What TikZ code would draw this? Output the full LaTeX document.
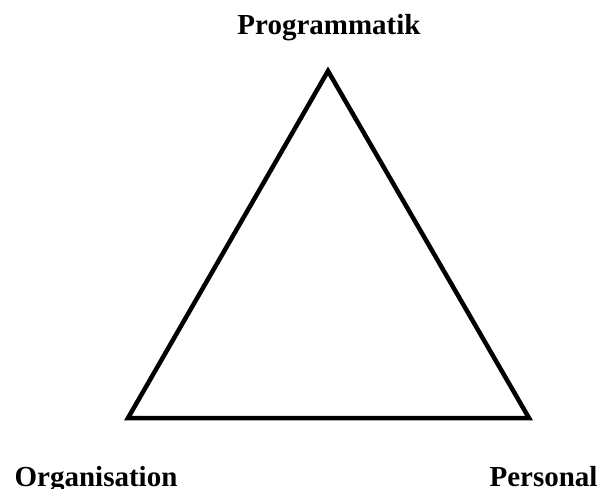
\documentclass[tikz,border=0pt]{standalone}
\usepackage{fontspec}
\setmainfont{Liberation Serif}
\begin{document}
\begin{tikzpicture}[x=1pt,y=-1pt,
  lbl/.style={font=\bfseries\fontsize{29}{32}\selectfont, inner sep=0pt, anchor=base},
  tri/.style={line width=4.5pt, line join=miter}]
\useasboundingbox (0,0) rectangle (602,489);
\coordinate (top) at (328,71);
\coordinate (bl) at (128,418);
\coordinate (br) at (529,418);
\draw[tri] (top) -- (bl) -- (br) -- cycle;
\node[lbl] (prog) at (329,35) {Programmatik};
\node[lbl] (org) at (96,486) {Organisation};
\node[lbl] (pers) at (543.5,486) {Personal};
\end{tikzpicture}
\end{document}
